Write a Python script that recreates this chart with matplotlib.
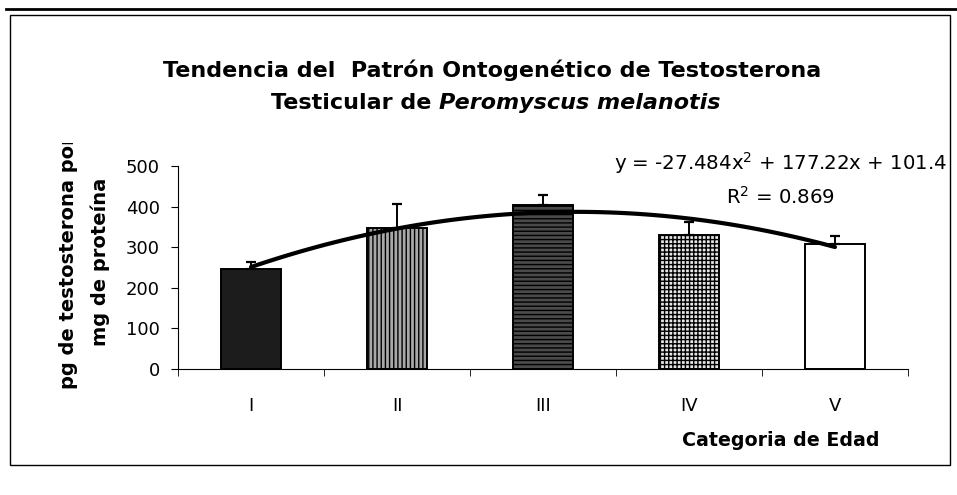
import numpy as np
import matplotlib.pyplot as plt
from matplotlib.patches import Rectangle
from matplotlib.transforms import Bbox

plt.rcParams['font.family'] = ['DejaVu Sans']

# datos
categorias = ["I", "II", "III", "IV", "V"]
medias = [246, 347, 404, 330, 308]
errores = [17, 59, 25, 32, 20]
coef_tendencia = [-27.484, 177.22, 101.4]   # y = a x^2 + b x + c
r2 = 0.869

colores = ["#1c1c1c", "#a8a8a8", "#4a4a4a", "#e6e6e6", "white"]
tramas = ["", "||||", "----", "++++", ""]

W, H = 957, 495
fig = plt.figure(figsize=(W / 100, H / 100), dpi=100)
ax = fig.add_axes([178 / W, 1 - 369 / H, (908 - 178) / W, (369 - 166) / H])

x = np.arange(1, len(categorias) + 1)
for xi, m, c, h in zip(x, medias, colores, tramas):
    ax.bar(xi, m, width=0.41, color=c, edgecolor="black", linewidth=1.4,
           hatch=h, zorder=2)
ax.errorbar(x, medias, yerr=[np.zeros(len(errores)), errores], fmt="none",
            ecolor="black", elinewidth=1.4, capsize=3.5, capthick=1.6, zorder=3)

# linea de tendencia polinomica
xt = np.linspace(1, 5, 100)
ax.plot(xt, np.polyval(coef_tendencia, xt), color="black", lw=3, zorder=4,
        solid_capstyle="round")

ax.set_xlim(0.5, 5.5)
ax.set_ylim(0, 500)
ax.set_yticks(range(0, 501, 100))
ax.set_xticks(x)
ax.set_xticklabels(categorias, fontsize=13)
ax.set_xticks(np.arange(0.5, 5.6, 1), minor=True)
ax.tick_params(axis="x", which="major", length=0, pad=20)
ax.tick_params(axis="x", which="minor", length=5, direction="out")
ax.tick_params(axis="y", length=5, labelsize=13, pad=8)
for s in ["top", "right"]:
    ax.spines[s].set_visible(False)
ax.spines["left"].set_linewidth(0.8)
ax.spines["bottom"].set_linewidth(0.8)

# titulo
fig.text(492 / W, 1 - 70 / H, "Tendencia del  Patrón Ontogenético de Testosterona",
         ha="center", va="center", fontsize=16, fontweight="bold")
r = fig.canvas.get_renderer()
ta = fig.text(0, 1 - 103 / H, "Testicular de ", ha="left", va="center",
              fontsize=16, fontweight="bold")
tb = fig.text(0, 1 - 103 / H, "Peromyscus melanotis", ha="left", va="center",
              fontsize=16, fontweight="bold", style="italic")
wa = ta.get_window_extent(r).width
wb = tb.get_window_extent(r).width
x0 = 496 - (wa + wb) / 2
ta.set_x(x0 / W)
tb.set_x((x0 + wa) / W)

# ecuacion
a, b, c = coef_tendencia
fig.text(947 / W, 1 - 163 / H,
         f"y = {a}x$^2$ + {b}x + {c}", ha="right", va="center", fontsize=14.2)
fig.text(780 / W, 1 - 197 / H, f"R$^2$ = {r2}", ha="center", va="center",
         fontsize=14.2)

# etiqueta del eje y (primera linea recortada como en el original)
t1 = fig.text(68 / W, 1 - 262 / H, "pg de testosterona por", rotation=90,
              ha="center", va="center", fontsize=14, fontweight="bold")
t1.set_clip_box(Bbox.from_extents(0, 0, W, H - 143))
fig.text(100 / W, 1 - 262 / H, "mg de proteína", rotation=90,
         ha="center", va="center", fontsize=14, fontweight="bold")

fig.text(880 / W, 1 - 440 / H, "Categoria de Edad", ha="right", va="center",
         fontsize=13.7, fontweight="bold")

# marco del grafico
fig.add_artist(Rectangle((10 / W, 1 - 465 / H), 940 / W, 450 / H,
                         transform=fig.transFigure, fill=False, lw=1,
                         edgecolor="black"))
fig.add_artist(plt.Line2D([6 / W, 1], [1 - 9 / H, 1 - 9 / H],
                          transform=fig.transFigure, color="black", lw=2))

fig.savefig("out.png", dpi=100)
